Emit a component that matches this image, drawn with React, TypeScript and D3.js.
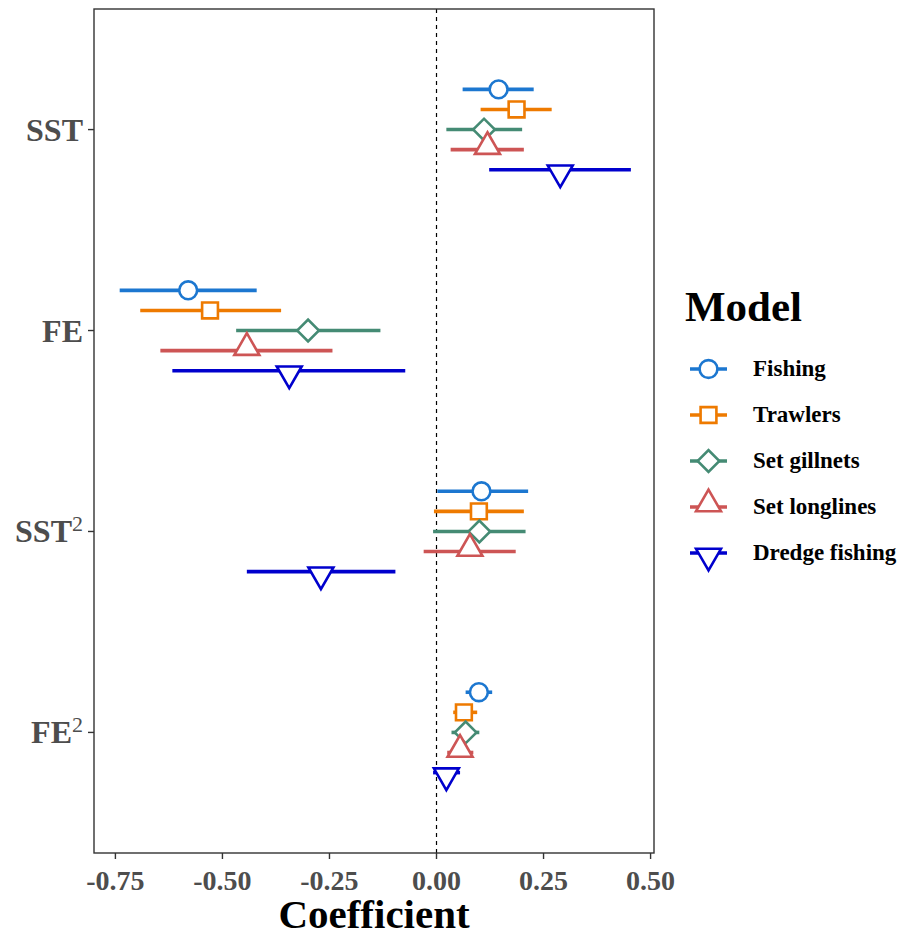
import React from 'react';
import * as d3 from 'd3';

const terms = ['SST', 'FE', 'SST2', 'FE2'];
const models = ['Fishing', 'Trawlers', 'Set gillnets', 'Set longlines', 'Dredge fishing'];
const colors = ['#1C77D0', '#EE7A00', '#458B74', '#CD5555', '#0000CD'];
const shapes = ['circle', 'square', 'diamond', 'triangle', 'triangleDown'];

// estimate and 95% interval per model, in order SST, FE, SST2, FE2
const estFishing = [0.145, -0.58, 0.105, 0.099];
const lowFishing = [0.061, -0.74, 0.002, 0.068];
const highFishing = [0.227, -0.42, 0.214, 0.13];

const estTrawlers = [0.187, -0.529, 0.099, 0.064];
const lowTrawlers = [0.103, -0.692, -0.006, 0.039];
const highTrawlers = [0.269, -0.363, 0.204, 0.095];

const estGillnets = [0.111, -0.3, 0.1, 0.068];
const lowGillnets = [0.023, -0.468, -0.008, 0.035];
const highGillnets = [0.2, -0.131, 0.208, 0.1];

const estLonglines = [0.119, -0.443, 0.078, 0.055];
const lowLonglines = [0.033, -0.645, -0.03, 0.025];
const highLonglines = [0.204, -0.243, 0.185, 0.086];

const estDredge = [0.289, -0.344, -0.27, 0.023];
const lowDredge = [0.123, -0.617, -0.443, -0.008];
const highDredge = [0.454, -0.073, -0.096, 0.055];

const xTicks = [-0.75, -0.5, -0.25, 0, 0.25, 0.5];

const estimates = [estFishing, estTrawlers, estGillnets, estLonglines, estDredge];
const lows = [lowFishing, lowTrawlers, lowGillnets, lowLonglines, lowDredge];
const highs = [highFishing, highTrawlers, highGillnets, highLonglines, highDredge];

const font = '"Liberation Serif", "Times New Roman", serif';

const symbolPath = (shape: string) => {
  if (shape === 'circle') return d3.symbol(d3.symbolCircle, 250)();
  if (shape === 'square') return d3.symbol(d3.symbolSquare, 250)();
  if (shape === 'diamond') return d3.symbol(d3.symbolSquare, 235)();
  return d3.symbol(d3.symbolTriangle, 270)();
};

const symbolTransform = (shape: string) => {
  if (shape === 'diamond') return 'rotate(45)';
  if (shape === 'triangleDown') return 'rotate(180) translate(0,-3)';
  if (shape === 'triangle') return 'translate(0,-3)';
  return '';
};

const Marker = ({ shape, color, x, y }: { shape: string; color: string; x: number; y: number }) => (
  <g transform={`translate(${x},${y})`}>
    <path
      d={symbolPath(shape) || ''}
      transform={symbolTransform(shape)}
      fill="white"
      stroke={color}
      strokeWidth={2.6}
    />
  </g>
);

const TermLabel = ({ term }: { term: string }) => {
  if (term.endsWith('2')) {
    return (
      <>
        {term.slice(0, -1)}
        <tspan fontWeight="normal" fontSize={22} dy={-11}>2</tspan>
      </>
    );
  }
  return <>{term}</>;
};

// ggplot style labels: plain hyphen, two decimals
const tickFormat = (v: number) => d3.format('.2f')(v).replace('\u2212', '-');

export default function App() {
  const width = 901;
  const height = 936;
  const panel = { left: 94, right: 654, top: 9, bottom: 853 };

  const x = d3.scaleLinear().domain([-0.8, 0.508]).range([panel.left, panel.right]);
  const y = d3.scalePoint<string>().domain(terms).range([panel.top, panel.bottom]).padding(0.6);
  const step = y.step();
  const dodge = d3.scalePoint<string>().domain(models).range([-0.2 * step, 0.2 * step]);

  const legendX = 690;
  const legendRows = d3.scalePoint<string>().domain(models).range([369, 553]);

  return (
    <svg width={width} height={height} style={{ position: 'absolute', left: 0, top: 0, background: 'white' }}>
      <rect x={0} y={0} width={width} height={height} fill="white" />
      {/* zero reference */}
      <line x1={x(0)} x2={x(0)} y1={panel.top} y2={panel.bottom} stroke="black" strokeWidth={1.2} strokeDasharray="4,4" />

      {models.map((m, mi) => (
        <g key={m}>
          {terms.map((t, ti) => {
            const yy = (y(t) as number) + (dodge(m) as number);
            return (
              <g key={t}>
                <line x1={x(lows[mi][ti])} x2={x(highs[mi][ti])} y1={yy} y2={yy} stroke={colors[mi]} strokeWidth={3.6} />
                <Marker shape={shapes[mi]} color={colors[mi]} x={x(estimates[mi][ti])} y={yy} />
              </g>
            );
          })}
        </g>
      ))}

      <rect x={panel.left} y={panel.top} width={panel.right - panel.left} height={panel.bottom - panel.top} fill="none" stroke="#333333" strokeWidth={1.4} />

      {/* x axis */}
      {xTicks.map(t => (
        <g key={t}>
          <line x1={x(t)} x2={x(t)} y1={panel.bottom} y2={panel.bottom + 6} stroke="#333333" strokeWidth={1.4} />
          <text x={x(t)} y={panel.bottom + 37} textAnchor="middle" fontFamily={font} fontWeight="bold" fontSize={28} fill="#4D4D4D">
            {tickFormat(t)}
          </text>
        </g>
      ))}
      <text x={(panel.left + panel.right) / 2} y={928} textAnchor="middle" fontFamily={font} fontWeight="bold" fontSize={41} fill="black">
        Coefficient
      </text>

      {/* y axis */}
      {terms.map(t => (
        <g key={t}>
          <line x1={panel.left - 6} x2={panel.left} y1={y(t)} y2={y(t)} stroke="#333333" strokeWidth={1.4} />
          <text x={panel.left - 11} y={(y(t) as number) + 11} textAnchor="end" fontFamily={font} fontWeight="bold" fontSize={32} fill="#4D4D4D">
            <TermLabel term={t} />
          </text>
        </g>
      ))}

      {/* legend */}
      <text x={685} y={321} fontFamily={font} fontWeight="bold" fontSize={43} fill="black">Model</text>
      {models.map((m, mi) => {
        const ly = legendRows(m) as number;
        return (
          <g key={m}>
            <line x1={legendX} x2={legendX + 37} y1={ly} y2={ly} stroke={colors[mi]} strokeWidth={3.6} />
            <Marker shape={shapes[mi]} color={colors[mi]} x={legendX + 18.5} y={ly} />
            <text x={753} y={ly + 7} fontFamily={font} fontWeight="bold" fontSize={23} fill="black">{m}</text>
          </g>
        );
      })}
    </svg>
  );
}
